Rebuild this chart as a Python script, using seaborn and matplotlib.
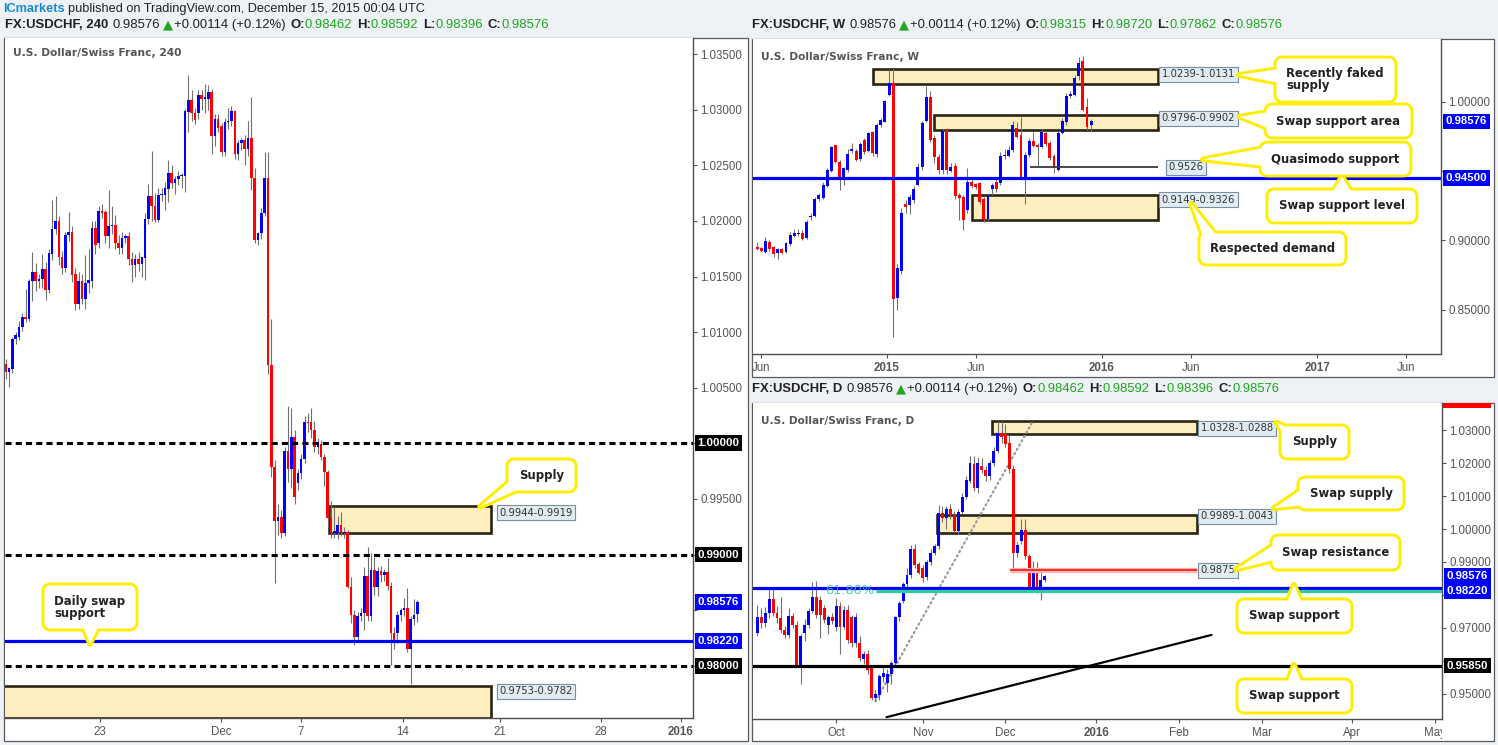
import numpy as np
import pandas as pd
import matplotlib
matplotlib.use("Agg")
import matplotlib.pyplot as plt
import matplotlib.dates as mdates
from matplotlib.patches import Rectangle, Polygon
from matplotlib.transforms import IdentityTransform, Bbox, TransformedBbox
from matplotlib.ticker import FixedLocator, FuncFormatter
from matplotlib import font_manager
import seaborn as sns

# ---------------------------------------------------------------- data: 240 (4H)
h4_open = [1.0071, 1.0064, 1.0067, 1.0094, 1.0096, 1.0105, 1.0114, 1.0112, 1.0146, 1.0154,
           1.0146, 1.0148, 1.0157, 1.0138, 1.0170, 1.0193, 1.0200, 1.0168, 1.0158, 1.0187,
           1.0190, 1.0152, 1.0125, 1.0146, 1.0130, 1.0144, 1.0146, 1.0194, 1.0180, 1.0209,
           1.0208, 1.0186, 1.0195, 1.0196, 1.0180, 1.0176, 1.0185, 1.0186, 1.0166, 1.0160,
           1.0166, 1.0161, 1.0167, 1.0202, 1.0222, 1.0213, 1.0201, 1.0223, 1.0223, 1.0229,
           1.0243, 1.0234, 1.0238, 1.0240, 1.0240, 1.0298, 1.0309, 1.0297, 1.0297, 1.0313,
           1.0310, 1.0310, 1.0316, 1.0276, 1.0292, 1.0285, 1.0262, 1.0289, 1.0290, 1.0299,
           1.0260, 1.0270, 1.0273, 1.0265, 1.0275, 1.0239, 1.0183, 1.0189, 1.0207, 1.0239,
           1.0070, 0.9979, 0.9930, 0.9934, 0.9919, 0.9993, 0.9977, 1.0006, 0.9964, 0.9973,
           0.9986, 1.0019, 1.0019, 1.0012, 0.9997, 0.9999, 0.9988, 0.9974, 0.9933, 0.9919,
           0.9919, 0.9927, 0.9919, 0.9920, 0.9871, 0.9846, 0.9826, 0.9845, 0.9847, 0.9881,
           0.9845, 0.9886, 0.9871, 0.9885, 0.9882, 0.9884, 0.9872, 0.9829, 0.9829, 0.9846,
           0.9850, 0.9852, 0.9815, 0.9842, 0.98462]
h4_high = [1.0076, 1.0069, 1.0096, 1.0100, 1.0110, 1.0117, 1.0139, 1.0148, 1.0172, 1.0162,
           1.0152, 1.0170, 1.0163, 1.0175, 1.0219, 1.0222, 1.0204, 1.0173, 1.0190, 1.0208,
           1.0195, 1.0158, 1.0154, 1.0152, 1.0169, 1.0175, 1.0200, 1.0200, 1.0213, 1.0215,
           1.0210, 1.0228, 1.0213, 1.0205, 1.0187, 1.0190, 1.0188, 1.0190, 1.0172, 1.0170,
           1.0172, 1.0168, 1.0207, 1.0233, 1.0263, 1.0225, 1.0230, 1.0230, 1.0235, 1.0255,
           1.0250, 1.0240, 1.0245, 1.0243, 1.0301, 1.0331, 1.0318, 1.0302, 1.0318, 1.0318,
           1.0323, 1.0322, 1.0319, 1.0296, 1.0296, 1.0288, 1.0293, 1.0302, 1.0303, 1.0300,
           1.0273, 1.0275, 1.0277, 1.0290, 1.0311, 1.0248, 1.0190, 1.0212, 1.0262, 1.0262,
           1.0112, 0.9985, 0.9945, 0.9940, 0.9997, 1.0034, 1.0032, 1.0012, 0.9977, 0.9990,
           1.0025, 1.0027, 1.0032, 1.0020, 1.0005, 1.0003, 0.9990, 0.9976, 0.9948, 0.9943,
           0.9935, 0.9938, 0.9925, 0.9922, 0.9880, 0.9850, 0.9848, 0.9852, 0.9889, 0.9907,
           0.9901, 0.9898, 0.9889, 0.9890, 0.9887, 0.9897, 0.9875, 0.9835, 0.9849, 0.9852,
           0.9861, 0.9870, 0.9845, 0.9860, 0.98592]
h4_low = [1.0058, 1.0051, 1.0063, 1.0089, 1.0093, 1.0101, 1.0109, 1.0110, 1.0128, 1.0137,
          1.0140, 1.0140, 1.0129, 1.0135, 1.0165, 1.0188, 1.0160, 1.0152, 1.0154, 1.0182,
          1.0145, 1.0120, 1.0121, 1.0125, 1.0121, 1.0135, 1.0140, 1.0170, 1.0176, 1.0203,
          1.0180, 1.0176, 1.0188, 1.0175, 1.0170, 1.0170, 1.0180, 1.0160, 1.0145, 1.0150,
          1.0155, 1.0150, 1.0147, 1.0197, 1.0200, 1.0199, 1.0199, 1.0218, 1.0210, 1.0217,
          1.0230, 1.0224, 1.0232, 1.0230, 1.0226, 1.0280, 1.0290, 1.0287, 1.0292, 1.0300,
          1.0297, 1.0300, 1.0260, 1.0267, 1.0280, 1.0258, 1.0258, 1.0283, 1.0285, 1.0256,
          1.0255, 1.0264, 1.0250, 1.0258, 1.0228, 1.0180, 1.0178, 1.0184, 1.0204, 1.0062,
          0.9970, 0.9874, 0.9918, 0.9915, 0.9917, 0.9965, 0.9960, 0.9945, 0.9958, 0.9968,
          0.9982, 1.0010, 1.0005, 0.9992, 0.9990, 0.9985, 0.9962, 0.9925, 0.9915, 0.9915,
          0.9914, 0.9917, 0.9915, 0.9870, 0.9838, 0.9819, 0.9822, 0.9840, 0.9832, 0.9840,
          0.9840, 0.9864, 0.9863, 0.9875, 0.9876, 0.9868, 0.9801, 0.9815, 0.9820, 0.9840,
          0.9845, 0.9812, 0.9784, 0.9837, 0.98396]
h4_close = [1.0064, 1.0068, 1.0094, 1.0097, 1.0105, 1.0114, 1.0112, 1.0146, 1.0154, 1.0146,
            1.0148, 1.0157, 1.0138, 1.0171, 1.0193, 1.0200, 1.0168, 1.0158, 1.0187, 1.0190,
            1.0151, 1.0125, 1.0146, 1.0130, 1.0144, 1.0147, 1.0194, 1.0178, 1.0209, 1.0207,
            1.0186, 1.0195, 1.0196, 1.0180, 1.0176, 1.0185, 1.0186, 1.0166, 1.0160, 1.0166,
            1.0161, 1.0168, 1.0202, 1.0222, 1.0213, 1.0201, 1.0223, 1.0224, 1.0230, 1.0243,
            1.0234, 1.0238, 1.0240, 1.0241, 1.0299, 1.0309, 1.0297, 1.0291, 1.0313, 1.0310,
            1.0311, 1.0316, 1.0276, 1.0292, 1.0284, 1.0262, 1.0289, 1.0290, 1.0299, 1.0260,
            1.0270, 1.0273, 1.0265, 1.0275, 1.0239, 1.0183, 1.0189, 1.0207, 1.0239, 1.0070,
            0.9979, 0.9930, 0.9934, 0.9919, 0.9993, 0.9977, 1.0006, 0.9952, 0.9973, 0.9986,
            1.0019, 1.0018, 1.0012, 0.9997, 0.9999, 0.9988, 0.9974, 0.9933, 0.9919, 0.9921,
            0.9927, 0.9919, 0.9920, 0.9871, 0.9846, 0.9826, 0.9845, 0.9847, 0.9881, 0.9845,
            0.9886, 0.9871, 0.9885, 0.9882, 0.9884, 0.9872, 0.9829, 0.9821, 0.9846, 0.9850,
            0.9852, 0.9815, 0.9842, 0.9846, 0.98576]
h4_tick_labels = ['23', 'Dec', '7', '14', '21', '28', '2016']
h4_tick_bars = [28.4, 64.8, 88.9, 119.6, 148.9, 179.3, 203.4]
h4_round_levels = [1.0000, 0.9900, 0.9800]
h4_swap_level = 0.9822
h4_supply_zone = (0.9919, 0.9944)
h4_demand_zone = (0.9753, 0.9782)

# ---------------------------------------------------------------- data: weekly
wk_start = '2014-05-26'
wk_open = [0.8949, 0.8941, 0.8918, 0.8990, 0.8949, 0.8906, 0.8937, 0.8918, 0.8971, 0.9033,
           0.9045, 0.9053, 0.9019, 0.9166, 0.9178, 0.9298, 0.9303, 0.9394, 0.9502, 0.9688,
           0.9567, 0.9454, 0.9507, 0.9642, 0.9644, 0.9584, 0.9723, 0.9646, 0.9783, 0.9623,
           0.9832, 0.9856, 1.0048, 1.0133, 0.8586, 0.8781, 0.9262, 0.9255, 0.9291, 0.9399,
           0.9526, 0.9863, 1.0032, 0.9736, 0.9603, 0.9507, 0.9795, 0.9502, 0.9536, 0.9327,
           0.9315, 0.9218, 0.9423, 0.9404, 0.9411, 0.9298, 0.9151, 0.9370, 0.9423, 0.9411,
           0.9608, 0.9608, 0.9651, 0.9808, 0.9760, 0.9452, 0.9615, 0.9719, 0.9688, 0.9675,
           0.9776, 0.9699, 0.9608, 0.9507, 0.9772, 0.9856, 1.0041, 1.0048, 1.0185, 1.0294,
           0.9959, 0.98315]
wk_high = [0.8985, 0.8950, 0.9026, 0.9000, 0.8960, 0.8945, 0.8945, 0.8990, 0.9060, 0.9085,
           0.9085, 0.9075, 0.9150, 0.9195, 0.9310, 0.9340, 0.9420, 0.9520, 0.9680, 0.9690,
           0.9580, 0.9530, 0.9660, 0.9700, 0.9660, 0.9710, 0.9735, 0.9785, 0.9790, 0.9845,
           0.9880, 1.0015, 1.0229, 1.0240, 0.8830, 0.9230, 0.9290, 0.9335, 0.9390, 0.9560,
           0.9860, 1.0113, 1.0080, 0.9760, 0.9620, 0.9800, 0.9810, 0.9560, 0.9560, 0.9340,
           0.9330, 0.9520, 0.9460, 0.9410, 0.9420, 0.9310, 0.9340, 0.9410, 0.9440, 0.9640,
           0.9660, 0.9680, 0.9860, 0.9850, 0.9892, 0.9640, 0.9740, 0.9780, 0.9700, 0.9800,
           0.9790, 0.9720, 0.9620, 0.9790, 0.9880, 1.0060, 1.0080, 1.0190, 1.0325, 1.0327,
           1.0024, 0.98720]
wk_low = [0.8930, 0.8915, 0.8910, 0.8925, 0.8880, 0.8862, 0.8900, 0.8905, 0.8960, 0.9025,
          0.9030, 0.9000, 0.9010, 0.9150, 0.9170, 0.9285, 0.9295, 0.9385, 0.9490, 0.9555,
          0.9363, 0.9400, 0.9495, 0.9630, 0.9570, 0.9575, 0.9620, 0.9635, 0.9610, 0.9600,
          0.9820, 0.9850, 1.0040, 0.8305, 0.8497, 0.8760, 0.9200, 0.9190, 0.9270, 0.9390,
          0.9510, 0.9850, 0.9710, 0.9560, 0.9480, 0.9480, 0.9480, 0.9490, 0.9300, 0.9150,
          0.9074, 0.9200, 0.9380, 0.9370, 0.9260, 0.9130, 0.9140, 0.9330, 0.9350, 0.9400,
          0.9590, 0.9600, 0.9640, 0.9735, 0.9440, 0.9259, 0.9600, 0.9670, 0.9535, 0.9665,
          0.9680, 0.9580, 0.9483, 0.9500, 0.9765, 0.9830, 1.0030, 1.0040, 1.0160, 0.9930,
          0.9795, 0.97862]
wk_close = [0.8937, 0.8925, 0.8995, 0.8935, 0.8899, 0.8937, 0.8911, 0.8983, 0.9038, 0.9050,
            0.9053, 0.9012, 0.9132, 0.9178, 0.9298, 0.9327, 0.9399, 0.9507, 0.9671, 0.9567,
            0.9452, 0.9519, 0.9623, 0.9659, 0.9579, 0.9692, 0.9639, 0.9771, 0.9627, 0.9832,
            0.9868, 1.0007, 1.0133, 0.8574, 0.8798, 0.9195, 0.9243, 0.9315, 0.9370, 0.9531,
            0.9844, 1.0036, 0.9724, 0.9603, 0.9507, 0.9791, 0.9507, 0.9526, 0.9320, 0.9303,
            0.9146, 0.9423, 0.9392, 0.9387, 0.9274, 0.9146, 0.9327, 0.9399, 0.9370, 0.9608,
            0.9615, 0.9651, 0.9832, 0.9748, 0.9452, 0.9615, 0.9719, 0.9680, 0.9671, 0.9783,
            0.9695, 0.9596, 0.9519, 0.9776, 0.9863, 1.0041, 1.0053, 1.0173, 1.0282, 0.9940,
            0.9815, 0.98576]
wk_tick_dates = ['2014-06-01', '2015-01-01', '2015-06-01', '2016-01-01', '2016-06-01', '2017-01-01', '2017-06-01']
wk_tick_labels = ['Jun', '2015', 'Jun', '2016', 'Jun', '2017', 'Jun']
wk_zones = [(1.0131, 1.0239), (0.9796, 0.9902), (0.9149, 0.9326)]
wk_zone_start = ['2014-12-09', '2015-03-23', '2015-05-25']
wk_zone_end = '2016-04-05'
wk_qm_level, wk_qm_start = 0.9526, '2015-09-01'
wk_swap_level = 0.9450

# ---------------------------------------------------------------- data: daily
d1_start = '2015-09-03'
d1_open = [0.9683, 0.9732, 0.9713, 0.9744, 0.9787, 0.9744, 0.9728, 0.9693, 0.9678, 0.9736,
           0.9708, 0.9587, 0.9683, 0.9708, 0.9752, 0.9792, 0.9784, 0.9759, 0.9708, 0.9732,
           0.9703, 0.9766, 0.9703, 0.9754, 0.9734, 0.9653, 0.9653, 0.9604, 0.9620, 0.9576,
           0.9485, 0.9495, 0.9551, 0.9531, 0.9559, 0.9592, 0.9732, 0.9782, 0.9833, 0.9860,
           0.9939, 0.9894, 0.9880, 0.9853, 0.9901, 0.9928, 0.9949, 1.0048, 1.0032, 1.0060,
           1.0043, 0.9995, 1.0053, 1.0098, 1.0147, 1.0198, 1.0124, 1.0192, 1.0179, 1.0162,
           1.0200, 1.0237, 1.0291, 1.0289, 1.0260, 1.0181, 0.9928, 0.9963, 0.9997, 0.9919,
           0.9823, 0.9873, 0.9820, 0.98462]
d1_high = [0.9769, 0.9760, 0.9762, 0.9820, 0.9822, 0.9765, 0.9794, 0.9705, 0.9761, 0.9745,
           0.9720, 0.9680, 0.9725, 0.9760, 0.9840, 0.9843, 0.9795, 0.9770, 0.9738, 0.9745,
           0.9790, 0.9778, 0.9765, 0.9770, 0.9740, 0.9745, 0.9675, 0.9630, 0.9632, 0.9585,
           0.9510, 0.9560, 0.9580, 0.9575, 0.9600, 0.9735, 0.9780, 0.9840, 0.9880, 0.9950,
           0.9955, 0.9900, 0.9890, 0.9905, 0.9940, 0.9955, 1.0072, 1.0070, 1.0070, 1.0075,
           1.0055, 1.0060, 1.0110, 1.0160, 1.0222, 1.0222, 1.0220, 1.0215, 1.0190, 1.0210,
           1.0250, 1.0328, 1.0328, 1.0320, 1.0285, 1.0195, 0.9960, 1.0030, 1.0030, 0.9925,
           0.9903, 0.9900, 0.9875, 0.98592]
d1_low = [0.9676, 0.9700, 0.9703, 0.9730, 0.9735, 0.9715, 0.9685, 0.9668, 0.9670, 0.9700,
          0.9580, 0.9529, 0.9660, 0.9700, 0.9745, 0.9730, 0.9668, 0.9715, 0.9680, 0.9710,
          0.9690, 0.9620, 0.9695, 0.9655, 0.9640, 0.9640, 0.9600, 0.9590, 0.9560, 0.9479,
          0.9476, 0.9480, 0.9535, 0.9505, 0.9530, 0.9585, 0.9720, 0.9775, 0.9820, 0.9850,
          0.9880, 0.9862, 0.9840, 0.9845, 0.9890, 0.9920, 0.9940, 1.0020, 1.0000, 1.0030,
          0.9990, 0.9985, 1.0045, 1.0090, 1.0140, 1.0115, 1.0110, 1.0170, 1.0145, 1.0150,
          1.0190, 1.0230, 1.0260, 1.0250, 1.0170, 0.9880, 0.9915, 0.9955, 0.9910, 0.9815,
          0.9815, 0.9804, 0.9784, 0.98396]
d1_close = [0.9732, 0.9715, 0.9744, 0.9787, 0.9744, 0.9728, 0.9693, 0.9678, 0.9736, 0.9708,
            0.9587, 0.9675, 0.9708, 0.9752, 0.9792, 0.9739, 0.9739, 0.9723, 0.9732, 0.9720,
            0.9766, 0.9703, 0.9754, 0.9663, 0.9653, 0.9734, 0.9607, 0.9620, 0.9571, 0.9485,
            0.9500, 0.9554, 0.9561, 0.9559, 0.9592, 0.9732, 0.9776, 0.9833, 0.9860, 0.9939,
            0.9891, 0.9865, 0.9850, 0.9901, 0.9928, 0.9949, 1.0048, 1.0032, 1.0060, 1.0043,
            0.9995, 1.0053, 1.0098, 1.0149, 1.0200, 1.0124, 1.0200, 1.0179, 1.0162, 1.0200,
            1.0237, 1.0291, 1.0281, 1.0258, 1.0181, 0.9928, 0.9951, 0.9997, 0.9919, 0.9823,
            0.9873, 0.9820, 0.9845, 0.98576]
d1_supply_zone = (1.0288, 1.0328)
d1_swap_supply_zone = (0.9989, 1.0043)
d1_swap_resistance = 0.9875
d1_swap_support = 0.9822
d1_fib_level = 0.9812
d1_lower_support = 0.9585
d1_trend = [(32.8, 0.9428), (115.3, 0.9678)]
d1_fib_line = [(30.0, 0.9476), (70.1, 1.0331)]

# ---------------------------------------------------------------- style
sns.set_theme(style="white")
_names = {f.name for f in font_manager.fontManager.ttflist}
AXFONT = 'Liberation Sans' if 'Liberation Sans' in _names else 'DejaVu Sans'
HFONT = 'Liberation Sans Narrow' if 'Liberation Sans Narrow' in _names else AXFONT
plt.rcParams['font.family'] = [AXFONT, 'DejaVu Sans']
plt.rcParams['axes.grid'] = False

BLUE, RED, WICK = '#0000ff', '#ff0000', '#707070'
ZONE_FC, ZONE_EC = '#fdeec0', '#2a2412'
YEL = '#ffee00'
GREEN = '#1fa81f'
DARK = '#222222'

W, H = 1498, 745
fig = plt.figure(figsize=(W / 100, H / 100), dpi=100, facecolor='#eef1f5')
ID = IdentityTransform()
R = fig.canvas.get_renderer()


def frame(x0, y0, x1, y1):
    fig.add_artist(Rectangle((x0 / W, 1 - y1 / H), (x1 - x0) / W, (y1 - y0) / H,
                             transform=fig.transFigure, fc='white', ec='#5a5a5a',
                             lw=0.9, zorder=-5))


def make_ax(x0, y0, x1, y1):
    ax = fig.add_axes([x0 / W, 1 - y1 / H, (x1 - x0) / W, (y1 - y0) / H])
    ax.set_facecolor('white')
    sns.despine(ax=ax, top=True, left=True, right=False, bottom=False)
    for s in ('right', 'bottom'):
        ax.spines[s].set_color('#4f4f4f')
        ax.spines[s].set_linewidth(1.0)
    ax.yaxis.tick_right()
    ax.tick_params(axis='y', left=False, right=True, labelleft=False, labelright=True,
                   length=3, width=0.8, color='#555', labelcolor='#555', labelsize=8.3, pad=2.5)
    ax.tick_params(axis='x', bottom=True, top=False, length=3, width=0.8, color='#555',
                   labelcolor='#555', labelsize=8.3, pad=3)
    ax.grid(False)
    return ax


def draw_candles(ax, x, o, h, l, c, width, wick_lw):
    o, h, l, c = (np.asarray(v, float) for v in (o, h, l, c))
    y0, y1 = ax.get_ylim()
    min_h = (y1 - y0) / ax.bbox.height * 1.3
    up = c >= o
    ax.vlines(x, l, h, colors=WICK, lw=wick_lw, zorder=3)
    ax.bar(x, np.maximum(np.abs(c - o), min_h), width=width, bottom=np.minimum(o, c),
           color=np.where(up, BLUE, RED), linewidth=0, zorder=4)


def zone(ax, x0, x1, lo, hi):
    ax.add_patch(Rectangle((x0, lo), x1 - x0, hi - lo, fc=ZONE_FC, ec=ZONE_EC,
                           lw=1.9, zorder=2))


def tag(ax, y, txt, fc, dy=0.0):
    ax.annotate(txt, xy=(1, y), xycoords=('axes fraction', 'data'), xytext=(3.3, dy),
                textcoords='offset points', ha='left', va='center', fontsize=8.2,
                fontweight='bold', color='white', family=AXFONT,
                bbox=dict(boxstyle='square,pad=0.25', fc=fc, ec='none'),
                annotation_clip=False, zorder=30)


def range_label(ax, x, y, txt, dx=4.5, dy=-4.0):
    ax.annotate(txt, xy=(x, y), xycoords='data', xytext=(dx, dy), textcoords='offset points',
                ha='left', va='center', fontsize=7.2, color='#333', family='DejaVu Sans',
                bbox=dict(boxstyle='square,pad=0.25', fc='#e1ebf2', ec='#7890a4', lw=0.8),
                annotation_clip=False, zorder=25)


def rounded(x0, y0, x1, y1, r):
    pts = []
    for cx, cy, a0 in ((x1 - r, y1 - r, 0), (x0 + r, y1 - r, 90),
                       (x0 + r, y0 + r, 180), (x1 - r, y0 + r, 270)):
        a = np.radians(np.linspace(a0, a0 + 90, 7))
        pts += list(zip(cx + r * np.cos(a), cy + r * np.sin(a)))
    return pts


def callout(ax, box, tip, base, text, left=False):
    tx, ty = ax.transData.transform(tip)
    x0, y0, x1, y1 = box
    pts = rounded(x0, H - y1, x1, H - y0, 7)
    tri = [(tx, ty)] + [(bx, H - by) for bx, by in base]
    fig.add_artist(Polygon(tri, closed=True, fc='white', ec=YEL, lw=4.2, joinstyle='round',
                           transform=ID, zorder=40))
    fig.add_artist(Polygon(pts, closed=True, fc='white', ec=YEL, lw=2.1, joinstyle='round',
                           transform=ID, zorder=41))
    fig.add_artist(Polygon(tri, closed=True, fc='white', ec='none', lw=0,
                           transform=ID, zorder=42))
    kw = dict(va='center', fontsize=8.4, fontweight='bold', color=DARK,
              family='DejaVu Sans', zorder=43, linespacing=0.9)
    if left:
        fig.text((x0 + 11) / W, 1 - (y0 + y1) / 2 / H, text, ha='left', **kw)
    else:
        fig.text((x0 + x1) / 2 / W, 1 - (y0 + y1) / 2 / H, text, ha='center', **kw)


def text_chain(x_px, y_px, parts, target_w, size0, fam):
    def build(size):
        arts, x = [], x_px
        sp = 0.30 * size * 100 / 72
        for s, col, wt, f, gap in parts:
            x += gap * sp
            t = fig.text(x / W, 1 - y_px / H, s, color=col, fontweight=wt,
                         family=(f or fam), fontsize=size, ha='left', va='center')
            x = t.get_window_extent(R).x1
            arts.append(t)
        return arts, x - x_px
    arts, w = build(size0)
    for a in arts:
        a.remove()
    build(size0 * target_w / w)


def ohlc_parts(tf, o, h, l, c):
    return [(f'FX:USDCHF, {tf}', DARK, 'bold', None, 0),
            ('0.98576', DARK, 'normal', None, 1.2),
            ('\u25B2', GREEN, 'normal', 'DejaVu Sans', 0.6),
            ('+0.00114 (+0.12%)', DARK, 'normal', None, 0.3),
            ('O:', DARK, 'bold', None, 1.2), (o, GREEN, 'normal', None, 0),
            ('H:', DARK, 'bold', None, 1.2), (h, GREEN, 'normal', None, 0),
            ('L:', DARK, 'bold', None, 1.2), (l, GREEN, 'normal', None, 0),
            ('C:', DARK, 'bold', None, 1.2), (c, GREEN, 'normal', None, 0)]


def fmt_hiding(hidden):
    hidden = [round(v, 4) for v in hidden]

    def f(v, p):
        return '' if round(v, 4) in hidden else f'{v:.5f}'
    return FuncFormatter(f)


def bold_years(ax, labels):
    for lab, t in zip(ax.get_xticklabels(), labels):
        if t.isdigit() and len(t) == 4:
            lab.set_fontweight('bold')


# ---------------------------------------------------------------- frames
frame(4, 38, 748, 741)
frame(752, 39, 1494, 377)
frame(752, 403, 1494, 741)

# ---------------------------------------------------------------- left: 240
ax1 = make_ax(5, 38, 693, 718)
ax1.set_xlim(-0.21, 207.0)
ax1.set_ylim(0.97530, 1.03645)
x4 = np.arange(len(h4_close))
zone(ax1, 97.4, 146.2, *h4_supply_zone)
zone(ax1, -2, 146.2, *h4_demand_zone)
draw_candles(ax1, x4, h4_open, h4_high, h4_low, h4_close, 0.78, 0.8)
for lv in h4_round_levels:
    ax1.axhline(lv, color='black', lw=2.2, ls=(0, (2.0, 1.35)), zorder=5)
ax1.axhline(h4_swap_level, color=BLUE, lw=2.3, zorder=5)
ax1.yaxis.set_major_locator(FixedLocator(np.round(np.arange(0.980, 1.0351, 0.005), 3)))
ax1.yaxis.set_major_formatter(fmt_hiding(h4_round_levels + [0.985]))
ax1.set_xticks(h4_tick_bars)
ax1.set_xticklabels(h4_tick_labels)
bold_years(ax1, h4_tick_labels)
for lv in h4_round_levels:
    tag(ax1, lv, f'{lv:.5f}', 'black')
tag(ax1, h4_close[-1], f'{h4_close[-1]:.5f}', BLUE)
tag(ax1, h4_swap_level, f'{h4_swap_level:.5f}', BLUE)
range_label(ax1, 146.2, h4_supply_zone[1], '0.9944-0.9919', dx=6, dy=-5)
range_label(ax1, 146.2, h4_demand_zone[1], '0.9753-0.9782', dx=6, dy=-3.8)

# ---------------------------------------------------------------- top right: weekly
ax2 = make_ax(753, 39, 1441, 354)
ax2.set_xlim(mdates.date2num(pd.Timestamp('2014-05-19')), mdates.date2num(pd.Timestamp('2017-07-30')))
ax2.set_ylim(0.81797, 1.04524)
xw = mdates.date2num(pd.date_range(wk_start, periods=len(wk_close), freq='7D'))
wz_end = mdates.date2num(pd.Timestamp(wk_zone_end))
for (lo, hi), st in zip(wk_zones, wk_zone_start):
    zone(ax2, mdates.date2num(pd.Timestamp(st)), wz_end, lo, hi)
draw_candles(ax2, xw, wk_open, wk_high, wk_low, wk_close, 5.0, 0.75)
ax2.hlines(wk_qm_level, mdates.date2num(pd.Timestamp(wk_qm_start)), wz_end,
           color='#3a3a3a', lw=1.3, zorder=5)
ax2.axhline(wk_swap_level, color=BLUE, lw=2.3, zorder=5)
ax2.yaxis.set_major_locator(FixedLocator([0.85, 0.90, 0.95, 1.00]))
ax2.yaxis.set_major_formatter(fmt_hiding([0.95]))
ax2.set_xticks(mdates.date2num(pd.to_datetime(wk_tick_dates)))
ax2.set_xticklabels(wk_tick_labels)
bold_years(ax2, wk_tick_labels)
tag(ax2, wk_close[-1], f'{wk_close[-1]:.5f}', BLUE)
tag(ax2, wk_swap_level, f'{wk_swap_level:.5f}', BLUE)
range_label(ax2, wz_end, wk_zones[0][1], '1.0239-1.0131', dx=3, dy=-4)
range_label(ax2, wz_end, wk_zones[1][1], '0.9796-0.9902', dx=3, dy=-2)
range_label(ax2, wz_end, wk_qm_level, '0.9526', dx=8, dy=0)
range_label(ax2, wz_end, wk_zones[2][1], '0.9149-0.9326', dx=3, dy=-3.5)

# ---------------------------------------------------------------- bottom right: daily
ax3 = make_ax(753, 403, 1442, 719)
ax3.set_xlim(-1.09, 173.8)
ax3.set_ylim(0.94225, 1.0383)
xd = np.arange(len(d1_close))
zone(ax3, 59.6, 111.5, *d1_supply_zone)
zone(ax3, 45.7, 111.5, *d1_swap_supply_zone)
(fx0, fy0), (fx1, fy1) = d1_fib_line
ax3.plot([fx0, fx1], [fy0, fy1], color='#9a9a9a', lw=1.6, ls=(0, (0.6, 1.6)),
         dash_capstyle='round', zorder=2.5)
draw_candles(ax3, xd, d1_open, d1_high, d1_low, d1_close, 0.74, 0.8)
ax3.hlines(d1_swap_resistance, 64.1, 111.5, color='#ffb3b3', lw=3.8, zorder=4.5)
ax3.hlines(d1_swap_resistance, 64.1, 111.5, color='#ff2020', lw=1.3, zorder=4.6)
ax3.axhline(d1_swap_support, color=BLUE, lw=2.3, zorder=5)
ax3.hlines(d1_fib_level, 30.1, 180, color='#2ecc9a', lw=2.3, zorder=5)
ax3.text(29.6, d1_fib_level, '61.80%', ha='right', va='center', color='#2ec99b', alpha=0.85,
         fontsize=9.3, family='DejaVu Sans', zorder=6)
ax3.axhline(d1_lower_support, color='black', lw=2.3, zorder=5)
(tx0, ty0), (tx1, ty1) = d1_trend
ax3.plot([tx0, tx1], [ty0, ty1], color='black', lw=1.6, zorder=5)
ax3.yaxis.set_major_locator(FixedLocator(np.round(np.arange(0.95, 1.0351, 0.01), 2)))
ax3.yaxis.set_major_formatter(fmt_hiding([0.98, 0.96]))
bd = pd.bdate_range(d1_start, '2016-05-31')
per = bd.to_period('M')
first = np.where(np.r_[False, per[1:] != per[:-1]])[0]
d_labels = [str(bd[i].year) if bd[i].month == 1 else bd[i].strftime('%b') for i in first]
ax3.set_xticks(first)
ax3.set_xticklabels(d_labels)
bold_years(ax3, d_labels)
clip = TransformedBbox(Bbox([[753, 0], [1442, H]]), ID)
for lab in ax3.get_xticklabels():
    lab.set_clip_box(clip)
    lab.set_clip_on(True)
tag(ax3, d1_close[-1], f'{d1_close[-1]:.5f}', BLUE)
tag(ax3, d1_swap_support, f'{d1_swap_support:.5f}', BLUE, dy=-2.5)
tag(ax3, d1_lower_support, f'{d1_lower_support:.5f}', 'black')
range_label(ax3, 111.5, d1_supply_zone[1], '1.0328-1.0288', dx=3, dy=-5)
range_label(ax3, 111.5, d1_swap_supply_zone[1], '0.9989-1.0043', dx=3, dy=-1)
range_label(ax3, 111.5, d1_swap_resistance, '0.9875', dx=3, dy=0)
fig.add_artist(Rectangle((1443 / W, 1 - 408 / H), 48 / W, 5 / H, transform=fig.transFigure,
                         fc='#ff0000', ec='none', zorder=6))

# ---------------------------------------------------------------- titles / headers
text_chain(3, 9, [('ICmarkets', '#1a8ad4', 'bold', None, 0),
                  ('published on TradingView.com, December 15, 2015 00:04 UTC', DARK, 'normal', None, 1)],
           422, 10, HFONT)
text_chain(5, 25, ohlc_parts('240', '0.98462', '0.98592', '0.98396', '0.98576'), 543, 10, HFONT)
text_chain(752, 25, ohlc_parts('W', '0.98315', '0.98720', '0.97862', '0.98576'), 530, 10, HFONT)
text_chain(752, 389, ohlc_parts('D', '0.98462', '0.98592', '0.98396', '0.98576'), 528, 10, HFONT)

text_chain(13, 53, [('U.S. Dollar/Swiss Franc, 240', '#555555', 'bold', 'DejaVu Sans', 0)], 168, 8, 'DejaVu Sans')
text_chain(761, 57, [('U.S. Dollar/Swiss Franc, W', '#555555', 'bold', 'DejaVu Sans', 0)], 157, 8, 'DejaVu Sans')
text_chain(761, 421, [('U.S. Dollar/Swiss Franc, D', '#555555', 'bold', 'DejaVu Sans', 0)], 153, 8, 'DejaVu Sans')

# ---------------------------------------------------------------- callouts
d = lambda s: mdates.date2num(pd.Timestamp(s))
callout(ax1, (507, 459, 576, 492), (142.9, 0.9943), [(510, 481), (519, 489)], 'Supply')
callout(ax1, (43, 584, 137, 630), (25.4, 0.9820), [(83, 626), (99, 626)], 'Daily swap\nsupport', left=True)

callout(ax2, (1275, 57, 1396, 102), (d('2016-08-21'), 1.0193), [(1279, 69), (1279, 83)],
        'Recently faked\nsupply', left=True)
callout(ax2, (1265, 104, 1412, 138), (d('2016-08-22'), 0.9892), [(1269, 112), (1270, 129)],
        'Swap support area')
callout(ax2, (1260, 142, 1411, 176), (d('2016-06-21'), 0.9584), [(1264, 148), (1265, 166)],
        'Quasimodo support')
callout(ax2, (1267, 189, 1417, 223), (d('2017-02-12'), 0.9459), [(1332, 193), (1352, 193)],
        'Swap support level')
callout(ax2, (1199, 232, 1346, 265), (d('2016-06-01'), 0.9262), [(1203, 236), (1217, 236)],
        'Respected demand')

callout(ax3, (1280, 425, 1349, 459), (131.8, 1.0324), [(1284, 435), (1290, 429)], 'Supply')
callout(ax3, (1298, 477, 1404, 510), (131.1, 1.0063), [(1302, 489), (1305, 505)], 'Swap supply')
callout(ax3, (1271, 535, 1400, 570), (121.5, 0.9877), [(1275, 544), (1278, 559)], 'Swap resistance')
callout(ax3, (1237, 599, 1352, 633), (136.2, 0.9830), [(1287, 603), (1302, 603)], 'Swap support')
callout(ax3, (1237, 679, 1352, 713), (136.2, 0.9587), [(1287, 683), (1302, 683)], 'Swap support')

fig.savefig('out.png', dpi=100, facecolor=fig.get_facecolor())
